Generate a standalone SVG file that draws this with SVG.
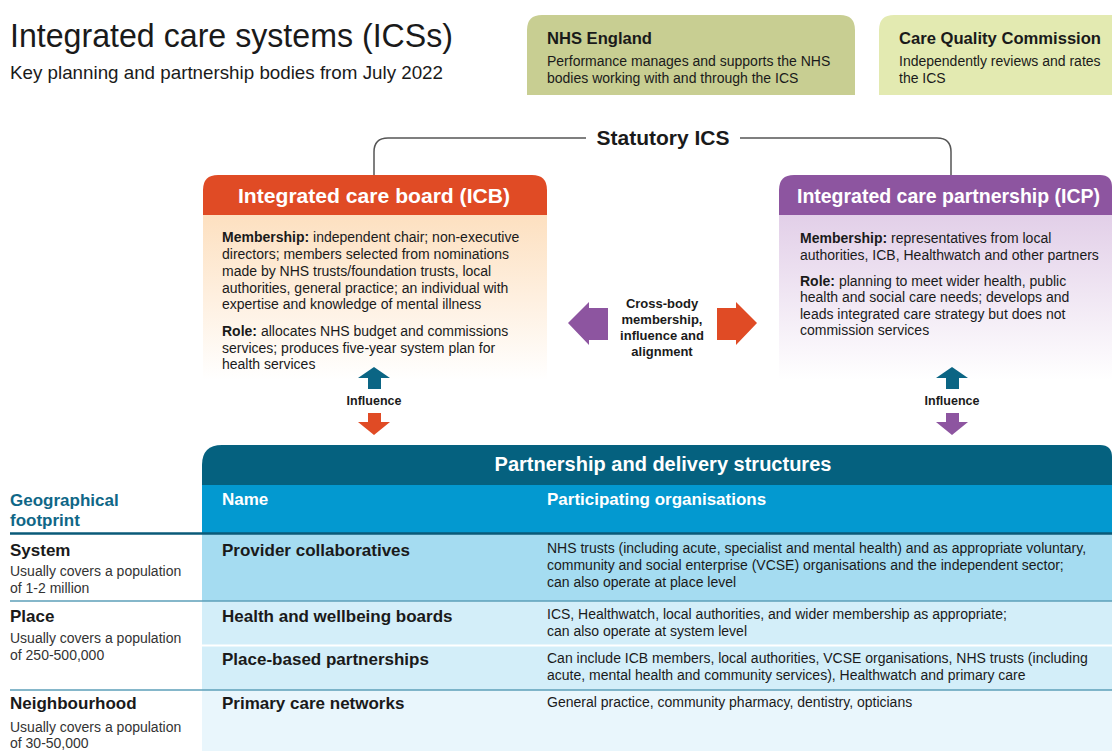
<svg xmlns="http://www.w3.org/2000/svg" width="1112" height="751" viewBox="0 0 1112 751">
<defs>
<linearGradient id="gIcb" x1="0" y1="0" x2="0" y2="1"><stop offset="0" stop-color="#fde0c0"/><stop offset="1" stop-color="#ffffff"/></linearGradient>
<linearGradient id="gIcp" x1="0" y1="0" x2="0" y2="1"><stop offset="0" stop-color="#e2cfe8"/><stop offset="1" stop-color="#ffffff"/></linearGradient>
<style>
text{font-family:"Liberation Sans",Arial,sans-serif;fill:#1a1a1a}
.b{font-weight:bold}
.body{font-size:14px}
.hd{font-size:17px;font-weight:bold}
.wt{fill:#ffffff}
.ttl{font-size:21px;font-weight:bold;fill:#ffffff}
.sm{font-size:13px;font-weight:bold}
.sep{stroke:#5d9fb8;stroke-width:1.5}
.brk{fill:none;stroke:#555555;stroke-width:1.5}
</style>
</defs>
<rect width="1112" height="751" fill="#ffffff"/>

<g id="title">
<text x="10" y="47" font-size="34" textLength="443" lengthAdjust="spacingAndGlyphs">Integrated care systems (ICSs)</text>
<text x="10" y="79" font-size="19" textLength="433" lengthAdjust="spacingAndGlyphs">Key planning and partnership bodies from July 2022</text>
</g>

<g id="nhs-england">
<path d="M527,95 V30 Q527,15 542,15 H840 Q855,15 855,30 V95 Z" fill="#c8ce92"/>
<text x="547" y="44" class="hd" textLength="105" lengthAdjust="spacingAndGlyphs">NHS England</text>
<text x="547" y="66" class="body">Performance manages and supports the NHS</text>
<text x="547" y="83" class="body">bodies working with and through the ICS</text>
</g>

<g id="cqc">
<path d="M879,95 V30 Q879,15 894,15 H1112 V95 Z" fill="#e3eab1"/>
<text x="899" y="44" class="hd" textLength="202" lengthAdjust="spacingAndGlyphs">Care Quality Commission</text>
<text x="899" y="66" class="body">Independently reviews and rates</text>
<text x="899" y="83" class="body">the ICS</text>
</g>

<g id="statutory-ics">
<path class="brk" d="M374,175 V152 Q374,138 388,138 H586"/>
<path class="brk" d="M740,138 H937 Q951,138 951,152 V175"/>
<text x="663" y="145" font-size="21" class="b" text-anchor="middle">Statutory ICS</text>
</g>

<g id="icb">
<rect x="203" y="215" width="344" height="165" fill="url(#gIcb)"/>
<path d="M203,215 V190 Q203,175 218,175 H532 Q547,175 547,190 V215 Z" fill="#e04b25"/>
<text x="238" y="203" class="ttl" textLength="272" lengthAdjust="spacingAndGlyphs">Integrated care board (ICB)</text>
<text x="222" y="242" class="body"><tspan class="b">Membership:</tspan> independent chair; non-executive</text>
<text x="222" y="259" class="body">directors; members selected from nominations</text>
<text x="222" y="276" class="body">made by NHS trusts/foundation trusts, local</text>
<text x="222" y="292.5" class="body">authorities, general practice; an individual with</text>
<text x="222" y="309" class="body">expertise and knowledge of mental illness</text>
<text x="222" y="336" class="body"><tspan class="b">Role:</tspan> allocates NHS budget and commissions</text>
<text x="222" y="352.5" class="body">services; produces five-year system plan for</text>
<text x="222" y="369" class="body">health services</text>
</g>

<g id="icp">
<rect x="779" y="215" width="333" height="165" fill="url(#gIcp)"/>
<path d="M779,215 V190 Q779,175 794,175 H1100 Q1112,175 1112,187 V215 Z" fill="#8d55a0"/>
<text x="797" y="203" class="ttl" textLength="303" lengthAdjust="spacingAndGlyphs">Integrated care partnership (ICP)</text>
<text x="800" y="243" class="body"><tspan class="b">Membership:</tspan> representatives from local</text>
<text x="800" y="259.5" class="body">authorities, ICB, Healthwatch and other partners</text>
<text x="800" y="286" class="body"><tspan class="b">Role:</tspan> planning to meet wider health, public</text>
<text x="800" y="302" class="body">health and social care needs; develops and</text>
<text x="800" y="319" class="body">leads integrated care strategy but does not</text>
<text x="800" y="335" class="body">commission services</text>
</g>

<g id="connectors">
<polygon points="568,323 589,302 589,308 608,308 608,340 589,340 589,345" fill="#8d55a0"/>
<polygon points="757,323 736,302 736,308 717,308 717,340 736,340 736,345" fill="#e04b25"/>
<polygon points="374,367 390,378 381,378 381,389 368,389 368,378 358,378" fill="#0b6584"/>
<polygon points="374,435 390,422 381,422 381,413 368,413 368,422 358,422" fill="#e04b25"/>
<polygon points="952,367 968,378 959,378 959,389 946,389 946,378 936,378" fill="#0b6584"/>
<polygon points="952,435 968,422 959,422 959,413 946,413 946,422 936,422" fill="#8d55a0"/>
</g>

<g id="cross-body-label">
<text x="662" y="308" class="sm" text-anchor="middle">Cross-body</text>
<text x="662" y="324" class="sm" text-anchor="middle">membership,</text>
<text x="662" y="340" class="sm" text-anchor="middle">influence and</text>
<text x="662" y="356" class="sm" text-anchor="middle">alignment</text>
</g>

<g id="influence-labels">
<text x="374" y="405" font-size="12.5" class="b" text-anchor="middle">Influence</text>
<text x="952" y="405" font-size="12.5" class="b" text-anchor="middle">Influence</text>
</g>

<g id="partnership-table">
<rect x="202" y="534" width="910" height="67" fill="#a5dcf1"/>
<rect x="202" y="601" width="910" height="89" fill="#d3eef9"/>
<rect x="202" y="690" width="910" height="61" fill="#e9f6fc"/>
<rect x="202" y="485" width="910" height="48" fill="#0399d0"/>
<path d="M202,485 V465 Q202,445 222,445 H1100 Q1112,445 1112,457 V485 Z" fill="#05617f"/>
<text x="663" y="471" font-size="20" class="b wt" text-anchor="middle">Partnership and delivery structures</text>
<text x="222" y="505" class="hd wt">Name</text>
<text x="547" y="505" class="hd wt">Participating organisations</text>
<line x1="10" y1="533.5" x2="1112" y2="533.5" stroke="#0a5a78" stroke-width="2.5"/>
<line class="sep" x1="10" y1="601" x2="1112" y2="601"/>
<line class="sep" x1="10" y1="690" x2="1112" y2="690"/>
<line x1="202" y1="645.5" x2="1112" y2="645.5" stroke="#ffffff" stroke-width="2"/>
</g>

<g id="geo-column">
<text x="10" y="506" class="hd" style="fill:#0f6787">Geographical</text>
<text x="10" y="526" class="hd" style="fill:#0f6787">footprint</text>
<text x="10" y="556" class="hd">System</text>
<text x="10" y="576" class="body" style="fill:#333">Usually covers a population</text>
<text x="10" y="593" class="body" style="fill:#333">of 1-2 million</text>
<text x="10" y="622" class="hd">Place</text>
<text x="10" y="643" class="body" style="fill:#333">Usually covers a population</text>
<text x="10" y="660" class="body" style="fill:#333">of 250-500,000</text>
<text x="10" y="709" class="hd">Neighbourhood</text>
<text x="10" y="732" class="body" style="fill:#333">Usually covers a population</text>
<text x="10" y="748" class="body" style="fill:#333">of 30-50,000</text>
</g>

<g id="row-provider">
<text x="222" y="556" class="hd">Provider collaboratives</text>
<text x="547" y="553" class="body">NHS trusts (including acute, specialist and mental health) and as appropriate voluntary,</text>
<text x="547" y="570" class="body">community and social enterprise (VCSE) organisations and the independent sector;</text>
<text x="547" y="587" class="body">can also operate at place level</text>
</g>
<g id="row-hwb">
<text x="222" y="622" class="hd">Health and wellbeing boards</text>
<text x="547" y="619" class="body">ICS, Healthwatch, local authorities, and wider membership as appropriate;</text>
<text x="547" y="636" class="body">can also operate at system level</text>
</g>
<g id="row-place">
<text x="222" y="665" class="hd">Place-based partnerships</text>
<text x="547" y="663" class="body">Can include ICB members, local authorities, VCSE organisations, NHS trusts (including</text>
<text x="547" y="680" class="body">acute, mental health and community services), Healthwatch and primary care</text>
</g>
<g id="row-pcn">
<text x="222" y="709" class="hd">Primary care networks</text>
<text x="547" y="707" class="body">General practice, community pharmacy, dentistry, opticians</text>
</g>
</svg>
